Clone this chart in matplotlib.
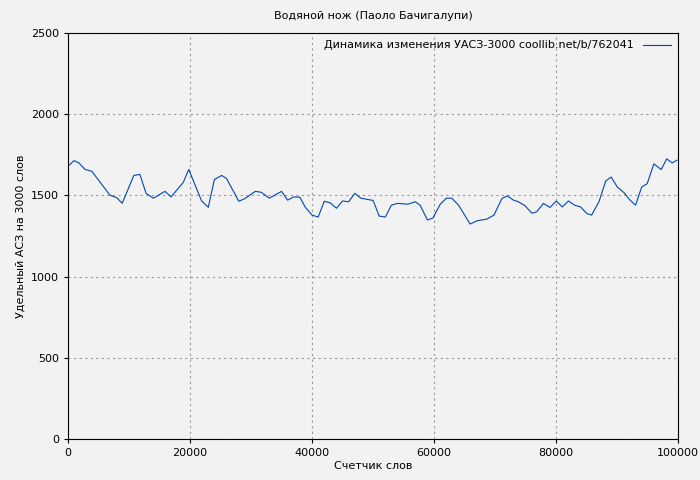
import matplotlib
matplotlib.use("Agg")
import matplotlib.pyplot as plt

words = [0,1000,1800,2800,3900,6900,8000,8900,10800,11800,12800,14000,15900,16900,18900,19800,
         21900,23000,24000,25200,26000,28000,29000,30700,31700,33000,35000,36000,37000,38000,38900,
         40000,41000,42000,43000,44000,45000,46000,47000,48000,50000,51000,52000,53000,54000,55700,
         56900,57700,58900,59800,61000,62000,62900,64000,65900,67000,68600,69800,71100,72000,73000,
         73800,74900,76000,76800,77900,79000,80000,81000,82000,83000,84000,85000,85800,87000,88100,
         89000,90000,91100,92100,93000,94000,94900,96000,97200,98100,99000,99800]
asz = [1678,1713,1699,1659,1648,1500,1485,1451,1622,1628,1512,1482,1524,1490,1579,1659,
       1465,1426,1597,1622,1602,1463,1480,1524,1518,1482,1524,1470,1490,1488,1426,
       1378,1366,1463,1453,1420,1465,1460,1512,1482,1468,1372,1366,1439,1450,1445,
       1460,1439,1348,1360,1445,1482,1482,1439,1323,1343,1353,1378,1480,1496,1470,
       1460,1435,1390,1398,1450,1425,1465,1428,1465,1439,1428,1388,1378,1460,1587,
       1612,1551,1516,1470,1439,1551,1571,1693,1658,1724,1699,1716]

bg = "#f2f2f2"
fig = plt.figure(figsize=(7, 4.8), dpi=100, facecolor=bg)
ax = fig.add_axes([0.097, 0.085, 0.872, 0.847], facecolor=bg)
ax.plot(words, asz, color="#0047b3", lw=0.8,
        label="Динамика изменения УАСЗ-3000 coollib.net/b/762041")
ax.set_xlim(0, 100000)
ax.set_ylim(0, 2500)
ax.set_xticks(range(0, 100001, 20000))
ax.set_yticks(range(0, 2501, 500))
ax.grid(True, color="#999999", ls=(0, (2, 3)), lw=0.8)
ax.tick_params(labelsize=8, length=3)
ax.set_title("Водяной нож (Паоло Бачигалупи)", fontsize=8, pad=10)
ax.set_xlabel("Счетчик слов", fontsize=8, labelpad=2)
ax.set_ylabel("Удельный АСЗ на 3000 слов", fontsize=8)
ax.legend(loc="upper right", frameon=False, fontsize=8, markerfirst=False,
          handlelength=2.5, borderaxespad=0.3)
fig.savefig("out.png", facecolor=bg)
